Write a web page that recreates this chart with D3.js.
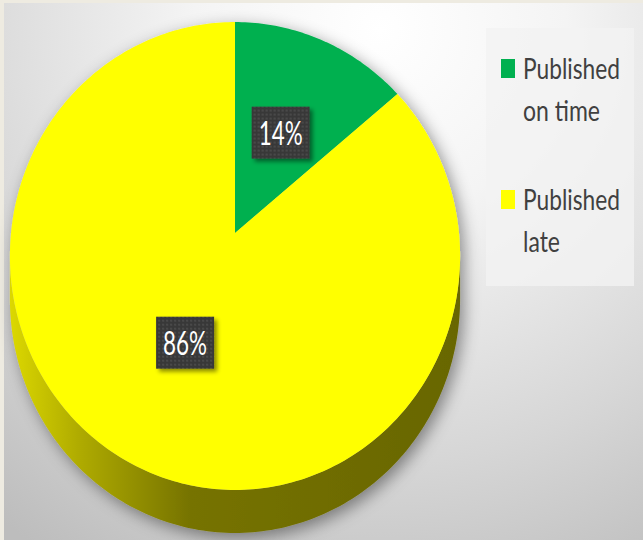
<!DOCTYPE html>
<html>
<head>
<meta charset="utf-8">
<script src="https://cdn.jsdelivr.net/npm/d3@7/dist/d3.min.js"></script>
<style>
  html, body { margin: 0; padding: 0; background: #ffffff; }
  svg { display: block; }
</style>
</head>
<body>
<svg id="chart" width="643" height="540"></svg>
<script>
// Share of items published on time vs. late
const categories = ["Published on time", "Published late"];
const values = [14, 86];
const colors = ["#00b050", "#ffff00"];
const legendLines = [["Published", "on time"], ["Published", "late"]];

const W = 643, H = 540;
const svg = d3.select("#chart");
const defs = svg.append("defs");

// Background: soft radial wash, lighter toward the upper right
const bg = defs.append("radialGradient").attr("id", "bgGrad")
  .attr("gradientUnits", "userSpaceOnUse")
  .attr("cx", 380).attr("cy", 30).attr("r", 620);
bg.append("stop").attr("offset", "0%").attr("stop-color", "#ffffff");
bg.append("stop").attr("offset", "30%").attr("stop-color", "#f4f4f4");
bg.append("stop").attr("offset", "70%").attr("stop-color", "#d6d6d6");
bg.append("stop").attr("offset", "100%").attr("stop-color", "#bdbdbd");

// Side wall of the disc: olive, lighter on the left
const side = defs.append("linearGradient").attr("id", "sideGrad")
  .attr("gradientUnits", "userSpaceOnUse")
  .attr("x1", 10).attr("y1", 0).attr("x2", 460).attr("y2", 0);
side.append("stop").attr("offset", "0%").attr("stop-color", "#dcd800");
side.append("stop").attr("offset", "15%").attr("stop-color", "#b0ac00");
side.append("stop").attr("offset", "40%").attr("stop-color", "#767300");
side.append("stop").attr("offset", "100%").attr("stop-color", "#686600");

// Soft shadow under the disc
const sh = defs.append("filter").attr("id", "pieShadow")
  .attr("x", "-10%").attr("y", "-10%").attr("width", "130%").attr("height", "130%");
sh.append("feDropShadow").attr("dx", 4).attr("dy", 5).attr("stdDeviation", 8)
  .attr("flood-color", "#000").attr("flood-opacity", 0.42);

// Shadow for data label boxes
const lsh = defs.append("filter").attr("id", "labelShadow")
  .attr("x", "-20%").attr("y", "-20%").attr("width", "150%").attr("height", "150%");
lsh.append("feDropShadow").attr("dx", 3).attr("dy", 3).attr("stdDeviation", 2)
  .attr("flood-color", "#000").attr("flood-opacity", 0.45);

// Dotted texture for the label boxes
const dots = defs.append("pattern").attr("id", "dots")
  .attr("patternUnits", "userSpaceOnUse").attr("width", 4).attr("height", 4);
dots.append("rect").attr("width", 4).attr("height", 4).attr("fill", "#393939");
dots.append("circle").attr("cx", 2).attr("cy", 2).attr("r", 0.9).attr("fill", "#515151");

svg.append("rect").attr("width", W).attr("height", H).attr("fill", "url(#bgGrad)");
// thin frame strips at top and left
svg.append("rect").attr("x", 0).attr("y", 0).attr("width", W).attr("height", 3).attr("fill", "#eeebe1");
svg.append("rect").attr("x", 0).attr("y", 0).attr("width", 4).attr("height", H).attr("fill", "#eeebe1");

// Perspective projection of a tilted disc: theta clockwise from 12 o'clock, r in [0,1]
const cx = 235, cy = 233, A = 224, B = 231.7, k = 0.0983, depth = 43;
function proj(theta, r) {
  const u = r * Math.sin(theta), v = r * Math.cos(theta);
  const w = 1 + k * v;
  return [cx + A * u / w, cy - B * v / w];
}
const line = d3.line();

const arcs = d3.pie().sort(null).value(d => d)(values);

const pieG = svg.append("g").attr("filter", "url(#pieShadow)");

// front wall: between the left and right silhouette points
const tR = Math.acos(-k), tL = 2 * Math.PI - Math.acos(-k);
const N = 160;
const front = d3.range(N + 1).map(i => proj(tR + (tL - tR) * i / N, 1));
const wall = front.concat(front.slice().reverse().map(p => [p[0], p[1] + depth]));
pieG.append("path").attr("d", line(wall) + "Z").attr("fill", "url(#sideGrad)");

// top face slices
pieG.selectAll("path.slice").data(arcs).join("path")
  .attr("class", "slice")
  .attr("fill", (d, i) => colors[i])
  .attr("d", d => {
    const n = Math.max(8, Math.ceil((d.endAngle - d.startAngle) * 60));
    const pts = [proj(0, 0)].concat(
      d3.range(n + 1).map(i => proj(d.startAngle + (d.endAngle - d.startAngle) * i / n, 1)));
    return line(pts) + "Z";
  });

// condensed text: draw at natural size, then squeeze horizontally to a target width
function condensed(parent, x, y, str, size, fill, width, anchor) {
  const g = parent.append("g");
  const t = g.append("text").attr("x", 0).attr("y", 0)
    .attr("font-family", "Lato, 'Open Sans', sans-serif").attr("font-size", size)
    .attr("fill", fill).attr("text-anchor", anchor || "start").text(str);
  const natural = t.node().getComputedTextLength() || width;
  g.attr("transform", `translate(${x},${y}) scale(${width / natural},1)`);
  return g;
}

// data labels
const lbl = svg.append("g").selectAll("g").data(arcs).join("g")
  .attr("transform", d => {
    const p = proj((d.startAngle + d.endAngle) / 2, 0.5);
    return `translate(${p[0]},${p[1]})`;
  });
lbl.append("rect").attr("x", -29).attr("y", -26).attr("width", 58).attr("height", 52)
  .attr("fill", "url(#dots)").attr("filter", "url(#labelShadow)");
lbl.each(function (d) {
  condensed(d3.select(this), 0, 12, d.value + "%", 32, "#ffffff", 44, "middle");
});

// legend
svg.append("rect").attr("x", 486).attr("y", 28).attr("width", 148).attr("height", 258)
  .attr("fill", "#f3f3f3").attr("opacity", 0.8);
const leg = svg.append("g").selectAll("g").data(categories).join("g")
  .attr("transform", (d, i) => `translate(501, ${59 + i * 131})`);
leg.append("rect").attr("width", 14).attr("height", 19).attr("fill", (d, i) => colors[i]);
const lineWidths = { "Published": 97, "on time": 77, "late": 37 };
leg.each(function (d, i) {
  const g = d3.select(this);
  legendLines[i].forEach((t, j) => {
    condensed(g, 22, 20 + j * 42, t, 29, "#404040", lineWidths[t]);
  });
});
</script>
</body>
</html>
